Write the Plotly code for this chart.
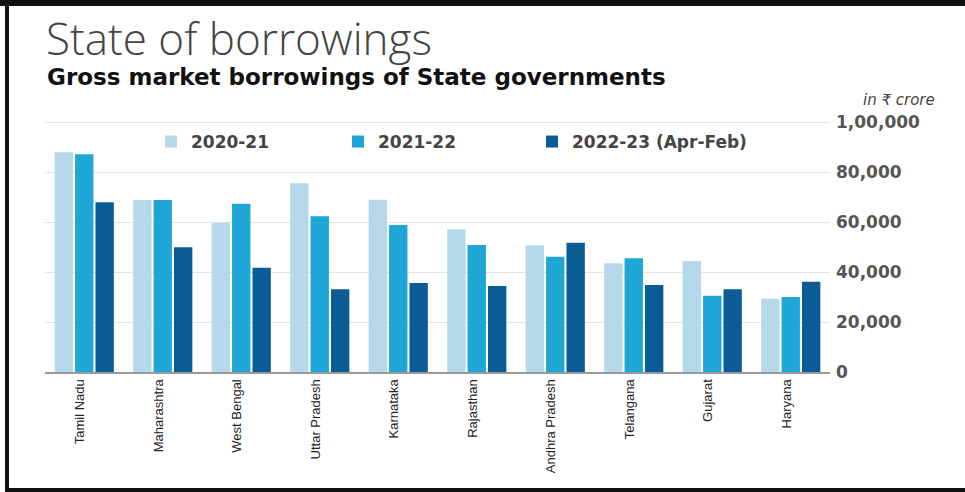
import plotly.graph_objects as go

states = ["Tamil Nadu", "Maharashtra", "West Bengal", "Uttar Pradesh", "Karnataka",
          "Rajasthan", "Andhra Pradesh", "Telangana", "Gujarat", "Haryana"]
fy2021 = [88000, 68900, 59800, 75600, 69000, 57200, 50800, 43600, 44500, 29400]
fy2122 = [87200, 68900, 67400, 62400, 58900, 50900, 46200, 45600, 30600, 30100]
fy2223 = [68000, 50000, 41800, 33200, 35700, 34500, 51800, 34900, 33200, 36200]
series_names = ["2020-21", "2021-22", "2022-23 (Apr-Feb)"]
tick_vals = [0, 20000, 40000, 60000, 80000, 100000]
tick_text = ["0", "20,000", "40,000", "60,000", "80,000", "1,00,000"]

colors = ["#b5d8ea", "#1ea6d6", "#0b5c96"]

W, H = 965, 492
def px(x):
    return x / W
def py(y):
    return (H - y) / H

legend_ids = ["legend", "legend2", "legend3"]
legend_x = [151, 338, 532]

fig = go.Figure()
for name, vals, c, lid in zip(series_names, [fy2021, fy2122, fy2223], colors, legend_ids):
    fig.add_trace(go.Bar(x=states, y=vals, name=name, legend=lid,
                         marker=dict(color=c, line=dict(width=0))))

legend_font = dict(family="DejaVu Sans", size=17, color="#444", weight="bold")
legends = {}
for lid, lx in zip(legend_ids, legend_x):
    legends[lid] = dict(orientation="h", x=px(lx), y=py(142), xanchor="left", yanchor="middle",
                        font=legend_font, bgcolor="rgba(0,0,0,0)")

fig.update_layout(
    width=W, height=H,
    margin=dict(l=0, r=0, t=0, b=0, autoexpand=False),
    paper_bgcolor="white", plot_bgcolor="white",
    barmode="group", bargap=0.22, bargroupgap=0.1,
    showlegend=True,
    xaxis=dict(domain=[px(45), px(830)], showgrid=False, showline=True, linecolor="#9a9a9a",
               linewidth=1.5, tickangle=-90, ticks="", automargin=False, ticklabelshift=-4,
               tickfont=dict(family="Liberation Sans", size=13, color="#222")),
    yaxis=dict(domain=[py(372.3), py(119.8)], range=[0, 101000], side="right",
               tickvals=tick_vals, ticktext=tick_text, showgrid=True, gridcolor="#e4e4e4",
               gridwidth=1, zeroline=False, showline=False, ticks="", ticklabelstandoff=5,
               automargin=False,
               tickfont=dict(family="DejaVu Sans", size=17, color="#555", weight="bold")),
    font=dict(family="DejaVu Sans"),
    **legends,
)

fig.add_annotation(text="State of borrowings", xref="paper", yref="paper", x=px(44), y=py(38),
                   xanchor="left", yanchor="middle", showarrow=False,
                   font=dict(family="Open Sans", size=44, color="#444", weight=300))
fig.add_annotation(text="Gross market borrowings of State governments", xref="paper", yref="paper",
                   x=px(45), y=py(77), xanchor="left", yanchor="middle", showarrow=False,
                   font=dict(family="DejaVu Sans", size=23, color="#111", weight="bold"))
fig.add_annotation(text="in ₹ crore", xref="paper", yref="paper", x=px(937), y=py(100),
                   xanchor="right", yanchor="middle", showarrow=False,
                   font=dict(family="DejaVu Sans", size=15, color="#444", style="italic"))

# image frame
fig.add_shape(type="rect", xref="paper", yref="paper", x0=0, x1=1, y0=py(6), y1=1,
              fillcolor="#111", line=dict(width=0), layer="above")
fig.add_shape(type="rect", xref="paper", yref="paper", x0=px(5), x1=px(9), y0=0, y1=1,
              fillcolor="#111", line=dict(width=0), layer="above")
fig.add_shape(type="rect", xref="paper", yref="paper", x0=px(5), x1=1, y0=0, y1=py(488),
              fillcolor="#111", line=dict(width=0), layer="above")

fig.write_html("out.html", config={"displayModeBar": False},
               post_script="document.body.style.margin='0';")
